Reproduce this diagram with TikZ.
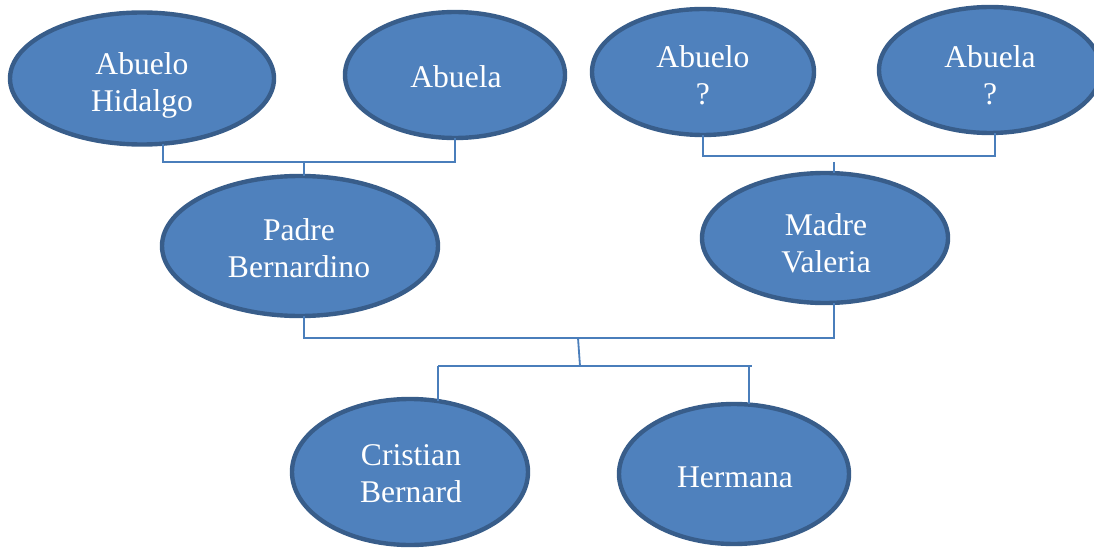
\documentclass[tikz,border=0pt]{standalone}
\usepackage{fontspec}
\setmainfont{Liberation Serif}
\usetikzlibrary{shapes.geometric}
\definecolor{ovalfill}{HTML}{4F81BD}
\definecolor{ovalline}{HTML}{385D8A}
\definecolor{connline}{HTML}{4A7EBB}
\begin{document}
\begin{tikzpicture}[x=1pt,y=1pt,
  oval/.style={ellipse, draw=ovalline, fill=ovalfill, line width=4.4pt, inner sep=0pt, outer sep=0pt},
  lbl/.style={text=white, align=center, inner sep=0pt, font=\fontsize{31.6}{37}\selectfont},
  conn/.style={draw=connline, line width=1.8pt}]
\useasboundingbox (0,0) rectangle (1094,-548);
% ovals
\node[oval, minimum width=264pt, minimum height=132pt] (hid) at (142,-78.5) {};
\node[oval, minimum width=220pt, minimum height=126pt] (ab1) at (455,-75) {};
\node[oval, minimum width=222pt, minimum height=126pt] (ab2) at (703,-72) {};
\node[oval, minimum width=222pt, minimum height=126pt] (ab3) at (990,-70) {};
\node[oval, minimum width=276pt, minimum height=140pt] (padre) at (300,-246) {};
\node[oval, minimum width=246pt, minimum height=130pt] (madre) at (825,-238) {};
\node[oval, minimum width=236pt, minimum height=146pt] (cris) at (410,-472) {};
\node[oval, minimum width=230pt, minimum height=140pt] (herm) at (734,-474) {};
% labels
\node[lbl] (hidt) at (142,-85) {Abuelo\\Hidalgo};
\node[lbl] (ab1t) at (456,-77) {Abuela};
\node[lbl] (ab2t) at (703,-75.5) {Abuelo\\?};
\node[lbl] (ab3t) at (990,-75.5) {Abuela\\?};
\node[lbl] (padret) at (299,-248.5) {Padre\\Bernardino};
\node[lbl] (madret) at (826,-243.5) {Madre\\Valeria};
\node[lbl] (crist) at (411,-474) {Cristian\\Bernard};
\node[lbl] (hermt) at (735,-477) {Hermana};
% junction points
\coordinate (j1) at (304,-162);
\coordinate (j2) at (849,-156);
\coordinate (s2) at (834,-162);
\coordinate (j3) at (578,-338);
\coordinate (k3) at (580,-366);
\coordinate (c3) at (438,-366);
\coordinate (h3) at (749,-366);
\coordinate (e3) at (752,-366);
% connectors
\draw[conn] ([xshift=21pt]hid.south) |- (j1) -| (ab1.south);
\draw[conn] (j1) -- (padre.north -| j1);
\draw[conn] (ab2.south) |- (j2) -| ([xshift=5pt]ab3.south);
\draw[conn] (s2) -- (madre.north -| s2);
\draw[conn] ([xshift=4pt]padre.south) |- (j3) -| ([xshift=9pt]madre.south);
\draw[conn] (j3) -- (k3);
\draw[conn] (c3) -- (e3);
\draw[conn] (c3) -- ([yshift=-2pt]cris.north -| c3);
\draw[conn] (h3) -- (herm.north -| h3);
\end{tikzpicture}
\end{document}
